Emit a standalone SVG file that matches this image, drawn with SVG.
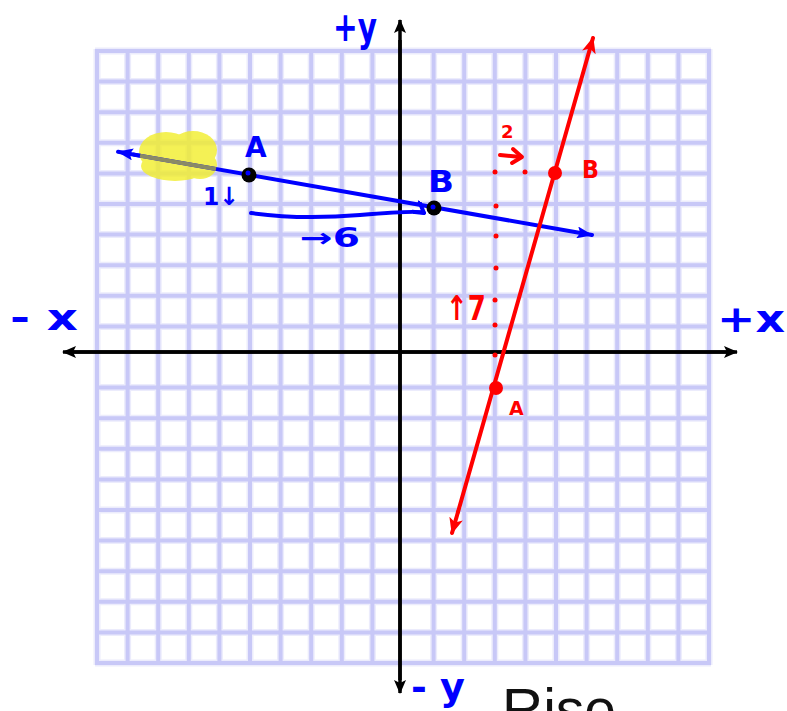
<svg xmlns="http://www.w3.org/2000/svg" width="787" height="711" viewBox="0 0 787 711">
<defs>
<style>
.gh{stroke:#ececfc;stroke-width:7;fill:none}
.g{stroke:#c8c8f7;stroke-width:4;fill:none}
.ax{stroke:#000;stroke-width:3.5;fill:none}
.bl{stroke:#0000ff;stroke-width:4;fill:none;stroke-linecap:round}
.rd{stroke:#ff0000;stroke-width:4;fill:none;stroke-linecap:round}
.hb{font-family:"DejaVu Sans",sans-serif;font-weight:bold;fill:#0000ff}
.hr{font-family:"DejaVu Sans",sans-serif;font-weight:bold;fill:#ff0000}
.dot{fill:#ff0000}
</style>
<marker id="axh" viewBox="0 0 14 12" refX="13" refY="6" markerWidth="14" markerHeight="12" markerUnits="userSpaceOnUse" orient="auto">
<path d="M0,0 L14,6 L0,12 L3,6 Z" fill="#000"/>
</marker>
<marker id="blh" viewBox="0 0 16 12" refX="15" refY="6" markerWidth="16" markerHeight="12" markerUnits="userSpaceOnUse" orient="auto">
<path d="M0,0 L16,6 L0,12 L3,6 Z" fill="#0000ff"/>
</marker>
<marker id="blc" viewBox="0 0 14 14" refX="12" refY="7" markerWidth="14" markerHeight="14" markerUnits="userSpaceOnUse" orient="auto">
<path d="M2,1 L12,7 L2,13" fill="none" stroke="#0000ff" stroke-width="4" stroke-linecap="round" stroke-linejoin="round"/>
</marker>
<marker id="rdh" viewBox="0 0 16 14" refX="15" refY="7" markerWidth="16" markerHeight="14" markerUnits="userSpaceOnUse" orient="auto">
<path d="M0,0 L16,7 L0,14 L4,7 Z" fill="#ff0000"/>
</marker>
</defs>
<rect width="787" height="711" fill="#fff"/>

<g id="grid">
<path class="gh" d="M97,49V665M127.6,49V665M158.2,49V665M188.8,49V665M219.4,49V665M250,49V665M280.6,49V665M311.2,49V665M341.8,49V665M372.4,49V665M433.6,49V665M464.2,49V665M494.8,49V665M525.4,49V665M556,49V665M586.6,49V665M617.2,49V665M647.8,49V665M678.4,49V665M709,49V665M95,51H711M95,81.6H711M95,112.2H711M95,142.8H711M95,173.4H711M95,204H711M95,234.6H711M95,265.2H711M95,295.8H711M95,326.4H711M95,387.6H711M95,418.2H711M95,448.8H711M95,479.4H711M95,510H711M95,540.6H711M95,571.2H711M95,601.8H711M95,632.4H711M95,663H711"/>
<path class="g" d="M97,49V665M127.6,49V665M158.2,49V665M188.8,49V665M219.4,49V665M250,49V665M280.6,49V665M311.2,49V665M341.8,49V665M372.4,49V665M433.6,49V665M464.2,49V665M494.8,49V665M525.4,49V665M556,49V665M586.6,49V665M617.2,49V665M647.8,49V665M678.4,49V665M709,49V665M95,51H711M95,81.6H711M95,112.2H711M95,142.8H711M95,173.4H711M95,204H711M95,234.6H711M95,265.2H711M95,295.8H711M95,326.4H711M95,387.6H711M95,418.2H711M95,448.8H711M95,479.4H711M95,510H711M95,540.6H711M95,571.2H711M95,601.8H711M95,632.4H711M95,663H711"/>
</g>

<g id="axes">
<line class="ax" x1="72" y1="352" x2="737" y2="352" marker-end="url(#axh)"/>
<line class="ax" x1="728" y1="352" x2="63" y2="352" marker-end="url(#axh)"/>
<line class="ax" x1="400" y1="680" x2="400" y2="20" marker-end="url(#axh)"/>
<line class="ax" x1="400" y1="40" x2="400" y2="693" marker-end="url(#axh)"/>
</g>

<g id="axis-labels">
<text class="hb" x="333" y="41" font-size="40" textLength="44" lengthAdjust="spacingAndGlyphs">+y</text>
<text class="hb" x="10" y="330" font-size="36" textLength="68" lengthAdjust="spacingAndGlyphs">- x</text>
<text class="hb" x="717" y="332" font-size="38" textLength="68" lengthAdjust="spacingAndGlyphs">+x</text>
<text class="hb" x="411" y="700" font-size="38" textLength="54" lengthAdjust="spacingAndGlyphs">- y</text>
<text x="502" y="729" font-family="Liberation Sans, Arial, sans-serif" font-size="57" fill="#111">Rise</text>
</g>

<g id="highlight">
<g opacity="0.82" fill="#f2ee30">
<ellipse cx="166" cy="152" rx="27" ry="20"/>
<ellipse cx="193" cy="150" rx="24" ry="19"/>
<ellipse cx="175" cy="166" rx="34" ry="15"/>
<ellipse cx="200" cy="165" rx="17" ry="14"/>
</g>
</g>

<g id="connectors">
<line class="bl" x1="134" y1="154.6" x2="592" y2="235" marker-end="url(#blh)" stroke-linecap="butt"/>
<line class="bl" x1="140" y1="155.7" x2="118" y2="151.8" marker-end="url(#blh)" stroke-linecap="butt"/>
<line x1="140" y1="155.7" x2="216" y2="169" stroke="#8a8a66" stroke-width="4"/>
<path class="bl" d="M251,213 Q300,220 360,215 T424,213" marker-end="url(#blc)"/>
<line class="rd" x1="458" y1="512" x2="452" y2="533" marker-end="url(#rdh)" stroke-linecap="butt"/>
<line class="rd" x1="458" y1="512" x2="593" y2="38" marker-end="url(#rdh)" stroke-linecap="butt"/>
<path class="rd" d="M500,155 L521,157" stroke-width="3.5"/>
<path class="rd" d="M513,149 L522,157 L512,163" stroke-width="3.5" stroke-linejoin="round"/>
</g>

<g id="rise-run-dots">
<circle class="dot" cx="495" cy="172" r="2.5"/>
<circle class="dot" cx="525" cy="172" r="2.5"/>
<circle class="dot" cx="496" cy="206" r="2.5"/>
<circle class="dot" cx="496" cy="236" r="2.5"/>
<circle class="dot" cx="496" cy="268" r="2.5"/>
<circle class="dot" cx="495" cy="300" r="2.5"/>
<circle class="dot" cx="495" cy="325" r="2.5"/>
<circle class="dot" cx="495" cy="355" r="2.5"/>
</g>

<g id="blue-point-A">
<circle cx="249" cy="175" r="7.5" fill="#000"/>
<circle cx="248" cy="173" r="2.5" fill="#0000ff"/>
<text class="hb" x="245" y="157" font-size="28">A</text>
</g>
<g id="blue-point-B">
<circle cx="434" cy="208" r="7.5" fill="#000"/>
<circle cx="433" cy="207" r="2.5" fill="#0000ff"/>
<text class="hb" x="428" y="192" font-size="30" textLength="26" lengthAdjust="spacingAndGlyphs">B</text>
</g>
<g id="blue-labels">
<text class="hb" x="203" y="205" font-size="25" textLength="36" lengthAdjust="spacingAndGlyphs">1↓</text>
<text class="hb" x="300" y="247" font-size="26" textLength="60" lengthAdjust="spacingAndGlyphs">→6</text>
</g>

<g id="red-point-A">
<circle cx="496" cy="388" r="7" fill="#ff0000"/>
<text class="hr" x="509" y="415" font-size="19">A</text>
</g>
<g id="red-point-B">
<circle cx="555" cy="173" r="7" fill="#ff0000"/>
<text class="hr" x="582" y="178" font-size="24" textLength="17" lengthAdjust="spacingAndGlyphs">B</text>
</g>
<g id="red-labels">
<text class="hr" x="501" y="138" font-size="18">2</text>
<text class="hr" x="446" y="320" font-size="34" textLength="40" lengthAdjust="spacingAndGlyphs">↑7</text>
</g>
</svg>
